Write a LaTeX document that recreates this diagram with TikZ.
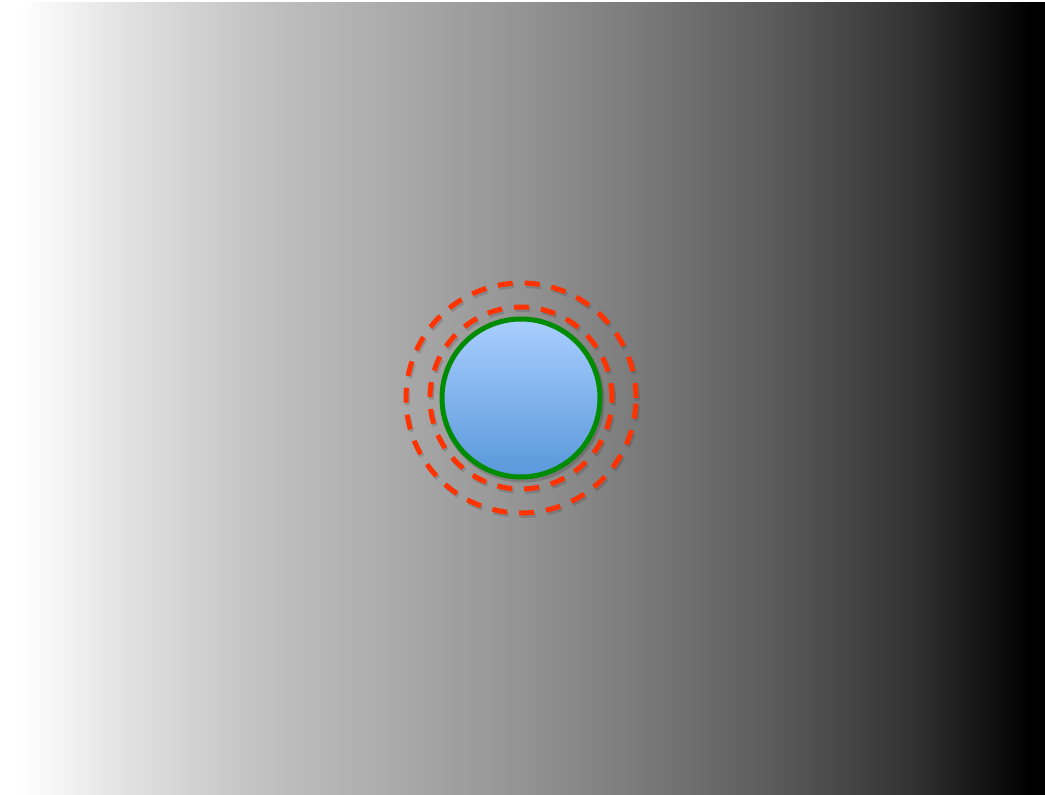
\documentclass[tikz,border=0pt]{standalone}
\usepackage{tikz}
\usetikzlibrary{calc}

\definecolor{ringred}{RGB}{255,51,0}
\definecolor{ballgreen}{RGB}{0,140,0}
\definecolor{balltop}{RGB}{170,206,255}
\definecolor{ballbot}{RGB}{88,152,218}
% background ramp, 0..1045px mapped on 25..75bp
\pgfdeclarehorizontalshading{backramp}{100bp}{%
	color(0bp)=(white); color(25.96bp)=(white);
	color(31.22bp)=(black!12); color(37.44bp)=(black!24);
	color(43.66bp)=(black!33); color(49.88bp)=(black!42);
	color(56.10bp)=(black!53); color(62.32bp)=(black!65);
	color(68.54bp)=(black!80); color(74.28bp)=(black); color(100bp)=(black)}

\begin{document}
\begin{tikzpicture}[x=1pt, y=-1pt,
		ring/.style={circle, draw=ringred, line width=5pt, dash pattern=on 15pt off 12pt, inner sep=0pt},
		ringshadow/.style={circle, draw=black, opacity=0.13, line width=5pt, dash pattern=on 15pt off 12pt, inner sep=0pt},
		ball/.style={circle, draw=ballgreen, line width=5pt, inner sep=0pt, top color=balltop, bottom color=ballbot}]
			\useasboundingbox (0,0) rectangle (1045,795);
			\shade[shading=backramp] (0,2) rectangle (1045,795);
			\coordinate (O) at (521,398);
			\coordinate (S) at ($(O)+(1.5,2.5)$);
			% soft shadows
			\node[ringshadow, minimum size=230pt] (outer shadow) at (S) {};
			\node[ringshadow, minimum size=182pt] (inner shadow) at (S) {};
			\fill[black, opacity=0.15] (S) circle (82pt);
			\node[ring, minimum size=230pt] (outer) at (O) {};
			\node[ring, minimum size=182pt] (inner) at (O) {};
			\node[ball, minimum size=158pt] (core) at (O) {};
		\end{tikzpicture}
\end{document}
